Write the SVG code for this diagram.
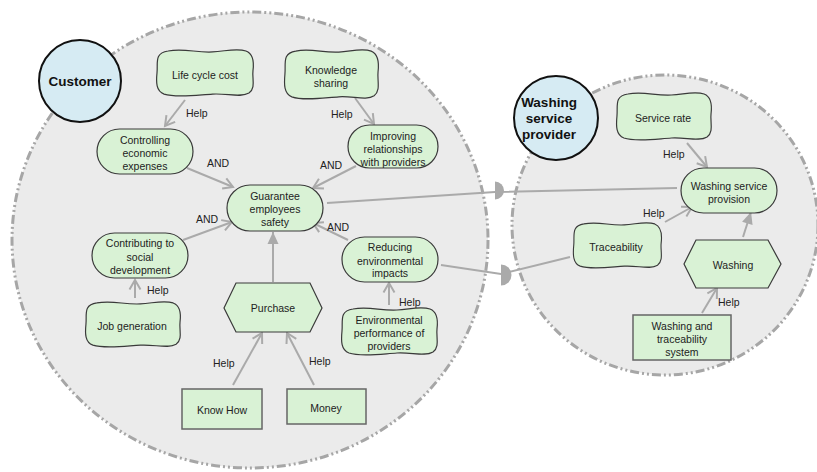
<svg xmlns="http://www.w3.org/2000/svg" width="817" height="472" viewBox="0 0 817 472">
<style>
.bound{fill:#ebebeb;stroke:#a6a6a6;stroke-width:3;stroke-dasharray:9,3,2,3,2,3}
.actor{fill:#d6ebf3;stroke:#111;stroke-width:2}
.atxt{font-family:"Liberation Sans",Arial,sans-serif;font-weight:bold;font-size:13.5px;fill:#111;text-anchor:middle}
.nd{fill:#d9f2d5;stroke:#3a3a3a;stroke-width:1.2}
.rc{fill:#d9f2d5;stroke:#666;stroke-width:1.5}
.t{font-family:"Liberation Sans",Arial,sans-serif;font-size:10.5px;fill:#222;text-anchor:middle}
.lb{font-family:"Liberation Sans",Arial,sans-serif;font-size:10.5px;fill:#222}
.ln{fill:none;stroke:#aaaaaa;stroke-width:2}
.hp{marker-end:url(#open)}
.dc{marker-end:url(#tri)}
.dm{fill:#aaaaaa}
</style>
<defs>
<marker id="open" markerUnits="userSpaceOnUse" markerWidth="14" markerHeight="14" refX="10" refY="6" orient="auto" overflow="visible">
<path d="M0.5,0.5 L10,6 L0.5,11.5" fill="none" stroke="#aaaaaa" stroke-width="2"/>
</marker>
<marker id="tri" markerUnits="userSpaceOnUse" markerWidth="14" markerHeight="14" refX="12" refY="5.5" orient="auto" overflow="visible">
<path d="M0,0 L12,5.5 L0,11 Z" fill="#aaaaaa"/>
</marker>
<path id="wavy" d="M14,2 C30,-1 42,4 58,3 C72,2 82,-1 91,2 C99,5 99,14 98,22 C97,30 101,40 94,45 C86,50 72,45 58,46 C42,47 22,50 10,46 C2,43 2,34 3,24 C4,14 0,4 14,2 Z"/>
</defs>

<g id="boundaries">
<ellipse class="bound" cx="250" cy="240" rx="238" ry="228"/>
<ellipse class="bound" cx="665" cy="225" rx="153" ry="150"/>
</g>

<g id="actor-customer">
<circle class="actor" cx="80" cy="81" r="41"/>
<text class="atxt" x="80" y="86">Customer</text>
</g>
<g id="actor-washing-service-provider">
<circle class="actor" cx="556" cy="118" r="42"/>
<text class="atxt" x="549" y="107">Washing</text>
<text class="atxt" x="549" y="123">service</text>
<text class="atxt" x="549" y="139">provider</text>
</g>

<g id="connectors">
<line class="ln hp" x1="185" y1="100" x2="165" y2="126"/>
<text class="lb" x="186" y="117">Help</text>
<line class="ln hp" x1="355" y1="98" x2="374" y2="124"/>
<text class="lb" x="331" y="118">Help</text>
<line class="ln hp" x1="187" y1="168" x2="233" y2="187"/>
<text class="lb" x="207" y="167">AND</text>
<line class="ln hp" x1="356" y1="166" x2="313" y2="188"/>
<text class="lb" x="320" y="169">AND</text>
<line class="ln hp" x1="183" y1="240" x2="232" y2="222"/>
<text class="lb" x="196" y="223">AND</text>
<line class="ln hp" x1="135" y1="298" x2="135" y2="280"/>
<text class="lb" x="147" y="294">Help</text>
<line class="ln dc" x1="273" y1="282" x2="273" y2="232"/>
<line class="ln hp" x1="348" y1="240" x2="313" y2="223"/>
<text class="lb" x="327" y="231">AND</text>
<line class="ln hp" x1="389" y1="305" x2="389" y2="283"/>
<text class="lb" x="399" y="306">Help</text>
<line class="ln hp" x1="233" y1="385" x2="262" y2="333"/>
<text class="lb" x="213" y="367">Help</text>
<line class="ln hp" x1="314" y1="385" x2="287" y2="333"/>
<text class="lb" x="309" y="365">Help</text>
<polyline class="ln" points="327,203 495,192 677,188"/>
<path class="dm" d="M495,181.5 A9,9 0 0 1 495,199.5 Z"/>
<polyline class="ln" points="441,265 501,274 570,257"/>
<path class="dm" d="M501,264.5 A10.5,10.5 0 0 1 501,285.5 Z"/>
<line class="ln hp" x1="687" y1="143" x2="707" y2="167"/>
<text class="lb" x="663" y="158">Help</text>
<line class="ln hp" x1="665" y1="222" x2="692" y2="207"/>
<text class="lb" x="643" y="217">Help</text>
<line class="ln dc" x1="743" y1="237" x2="751" y2="212"/>
<line class="ln hp" x1="702" y1="313" x2="717" y2="288"/>
<text class="lb" x="718" y="306">Help</text>
</g>

<g id="life-cycle-cost">
<use href="#wavy" class="nd" transform="translate(154,49) scale(1.01,0.98)"/>
<text class="t" x="205" y="79">Life cycle cost</text>
</g>
<g id="knowledge-sharing">
<use href="#wavy" class="nd" transform="translate(282,49) scale(0.98,1.04)"/>
<text class="t" x="331" y="74">Knowledge</text>
<text class="t" x="331" y="86.5">sharing</text>
</g>
<g id="controlling-economic-expenses">
<rect class="nd" x="97" y="129" width="96" height="45" rx="22.5"/>
<text class="t" x="145" y="144">Controlling</text>
<text class="t" x="145" y="157">economic</text>
<text class="t" x="145" y="170">expenses</text>
</g>
<g id="improving-relationships">
<rect class="nd" x="348" y="125" width="90" height="43" rx="21.5"/>
<text class="t" x="393" y="140">Improving</text>
<text class="t" x="393" y="153">relationships</text>
<text class="t" x="393" y="165.5">with providers</text>
</g>
<g id="guarantee-employees-safety">
<rect class="nd" x="227" y="185" width="96" height="46" rx="23"/>
<text class="t" x="275" y="200">Guarantee</text>
<text class="t" x="275" y="213">employees</text>
<text class="t" x="275" y="226">safety</text>
</g>
<g id="contributing-social-development">
<rect class="nd" x="92" y="233" width="96" height="45" rx="22.5"/>
<text class="t" x="140" y="247">Contributing to</text>
<text class="t" x="140" y="260.5">social</text>
<text class="t" x="140" y="273.5">development</text>
</g>
<g id="job-generation">
<use href="#wavy" class="nd" transform="translate(83,301) scale(0.99,0.96)"/>
<text class="t" x="132" y="329.5">Job generation</text>
</g>
<g id="purchase">
<polygon class="nd" points="224,308 236,283 310,283 322,308 310,332 236,332"/>
<text class="t" x="273" y="312">Purchase</text>
</g>
<g id="reducing-environmental-impacts">
<rect class="nd" x="342" y="237" width="96" height="45" rx="22.5"/>
<text class="t" x="390" y="251">Reducing</text>
<text class="t" x="390" y="264.5">environmental</text>
<text class="t" x="390" y="277">impacts</text>
</g>
<g id="environmental-performance">
<use href="#wavy" class="nd" transform="translate(339,307) scale(1,1)"/>
<text class="t" x="389" y="324">Environmental</text>
<text class="t" x="389" y="337">performance of</text>
<text class="t" x="389" y="350">providers</text>
</g>
<g id="know-how">
<rect class="rc" x="182" y="389" width="80" height="40"/>
<text class="t" x="222" y="414">Know How</text>
</g>
<g id="money">
<rect class="rc" x="287" y="389" width="79" height="35"/>
<text class="t" x="326" y="412">Money</text>
</g>

<g id="service-rate">
<use href="#wavy" class="nd" transform="translate(614,92) scale(0.99,1)"/>
<text class="t" x="663" y="122">Service rate</text>
</g>
<g id="washing-service-provision">
<rect class="nd" x="681" y="168" width="96" height="45" rx="22.5"/>
<text class="t" x="729" y="190">Washing service</text>
<text class="t" x="729" y="202.5">provision</text>
</g>
<g id="traceability">
<use href="#wavy" class="nd" transform="translate(571,222) scale(0.92,0.96)"/>
<text class="t" x="616" y="250.5">Traceability</text>
</g>
<g id="washing">
<polygon class="nd" points="684,264 696,240 768,240 781,264 768,288 696,288"/>
<text class="t" x="733" y="268.5">Washing</text>
</g>
<g id="washing-traceability-system">
<rect class="rc" x="633" y="315" width="98" height="45"/>
<text class="t" x="682" y="330">Washing and</text>
<text class="t" x="682" y="343">traceability</text>
<text class="t" x="682" y="356">system</text>
</g>
</svg>
